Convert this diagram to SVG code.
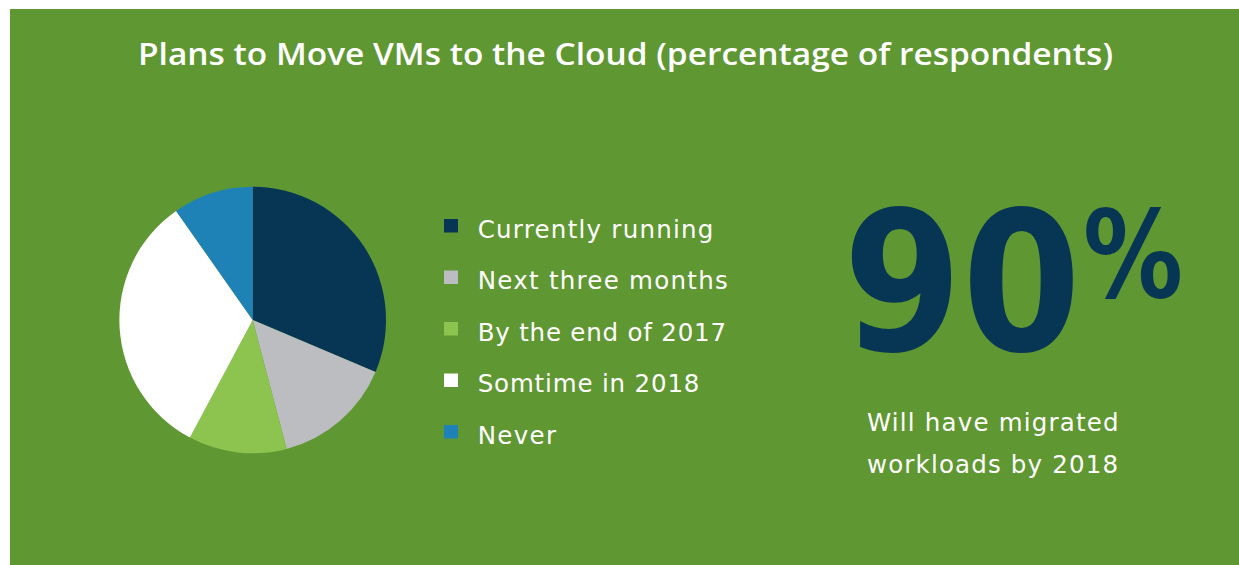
<svg xmlns="http://www.w3.org/2000/svg" width="1239" height="565" viewBox="0 0 1239 565">
<style>
.t{font-family:"DejaVu Sans","Open Sans",sans-serif;fill:#ffffff}
.leg{font-size:24.5px}
.big{font-family:"DejaVu Sans","Liberation Sans",sans-serif;font-weight:bold;fill:#073654}
</style>
<rect x="0" y="0" width="1239" height="565" fill="#ffffff"/>
<rect x="10" y="9" width="1229" height="556" fill="#5f9732"/>
<text x="625.5" y="64.5" text-anchor="middle" font-family="'Open Sans','Liberation Sans',sans-serif" fill="#ffffff" font-size="30" font-weight="600" textLength="975" lengthAdjust="spacingAndGlyphs">Plans to Move VMs to the Cloud (percentage of respondents)</text>
<g id="pie">
<path d="M252.7,320 L252.7,186.7 A133.3,133.3 0 0 1 375.5,371.9 Z" fill="#073654"/>
<path d="M252.7,320 L375.5,371.9 A133.3,133.3 0 0 1 286.7,448.9 Z" fill="#bcbdc0"/>
<path d="M252.7,320 L286.7,448.9 A133.3,133.3 0 0 1 189.9,437.6 Z" fill="#8cc44f"/>
<path d="M252.7,320 L189.9,437.6 A133.3,133.3 0 0 1 176.1,210.9 Z" fill="#ffffff"/>
<path d="M252.7,320 L176.1,210.9 A133.3,133.3 0 0 1 252.7,186.7 Z" fill="#1e82b6"/>
</g>
<g id="legend">
<rect x="444" y="219" width="14" height="13.5" fill="#073654"/>
<text class="t leg" x="477.7" y="237.5" textLength="235.7">Currently running</text>
<rect x="444" y="270.5" width="14" height="13.5" fill="#bcbdc0"/>
<text class="t leg" x="477.7" y="289" textLength="250">Next three months</text>
<rect x="444" y="322" width="14" height="13.5" fill="#8cc44f"/>
<text class="t leg" x="477.7" y="340.5" textLength="248.3">By the end of 2017</text>
<rect x="444" y="373.5" width="14" height="13.5" fill="#ffffff"/>
<text class="t leg" x="477.7" y="392" textLength="221.7">Somtime in 2018</text>
<rect x="444" y="425" width="14" height="13.5" fill="#1e82b6"/>
<text class="t leg" x="477.7" y="443.5" textLength="78.3">Never</text>
</g>
<g id="stat">
<text class="big" x="843" y="350" font-size="195"><tspan textLength="238" lengthAdjust="spacingAndGlyphs">90</tspan><tspan x="1083" y="297" font-size="121" textLength="100" lengthAdjust="spacingAndGlyphs">%</tspan></text>
<text class="t leg" x="867" y="431" textLength="251.5">Will have migrated</text>
<text class="t leg" x="867" y="473" textLength="251">workloads by 2018</text>
</g>
</svg>
